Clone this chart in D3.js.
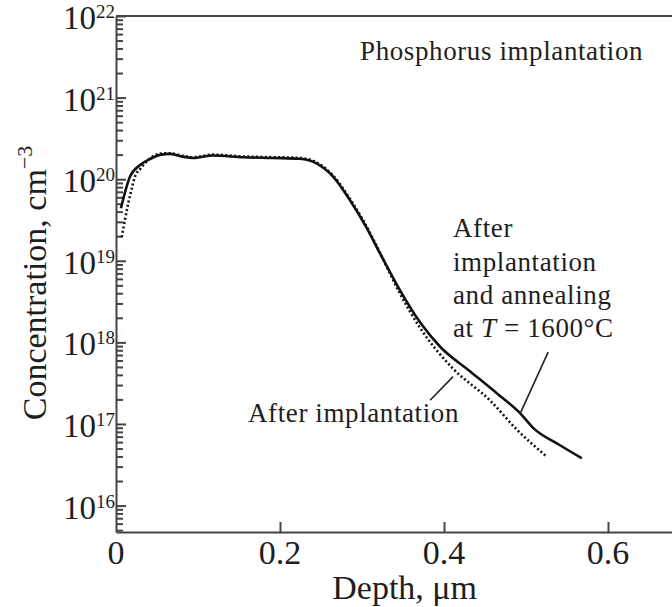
<!DOCTYPE html>
<html>

<head>
    <meta charset="utf-8">
</head>
<style>
    body {
        margin: 0;
        background: #fff;
    }

    text {
        font-family: "Liberation Serif", "Times New Roman", serif;
        fill: #1e1e1e;
    }

    .axis path,
    .axis line {
        stroke: #444;
        stroke-width: 2;
    }

    .line {
        fill: none;
        stroke: #111;
    }
</style>

<body>
    <svg width="672" height="607"></svg>
    <script src="https://d3js.org/d3.v7.min.js"></script>
    <script>
        // profile after implantation + annealing at 1600 C (solid)
        var depthAnnealed = [0.006, 0.017, 0.029, 0.042, 0.055, 0.065, 0.08, 0.094, 0.118, 0.155, 0.192, 0.224, 0.245,
            0.265, 0.285, 0.305, 0.322, 0.346, 0.371, 0.395, 0.432, 0.465, 0.493, 0.509, 0.54, 0.568];
        var concAnnealed = [4.4e19, 1.07e20, 1.48e20, 1.78e20, 2.0e20, 2.04e20, 1.9e20, 1.82e20, 1.95e20, 1.86e20, 1.82e20, 1.78e20, 1.55e20,
            1.07e20, 5.6e19, 2.6e19, 1.23e19, 4.4e18, 1.75e18, 8.9e17, 4.4e17, 2.35e17, 1.35e17, 8.9e16, 5.6e16, 3.8e16];

        // profile right after implantation (dotted)
        var depthImplanted = [0.007, 0.011, 0.015, 0.0195, 0.023, 0.03, 0.042, 0.055, 0.065, 0.08, 0.094, 0.118, 0.155, 0.192,
            0.224, 0.245, 0.265, 0.285, 0.305, 0.322, 0.345, 0.370, 0.409, 0.456, 0.489, 0.525];
        var concImplanted = [1.95e19, 3.2e19, 5.1e19, 7.9e19, 1.07e20, 1.35e20, 1.82e20, 2.06e20, 2.08e20, 1.95e20, 1.86e20, 2.0e20, 1.9e20, 1.86e20,
            1.82e20, 1.6e20, 1.1e20, 5.8e19, 2.7e19, 1.25e19, 4.2e18, 1.55e18, 5.0e17, 1.95e17, 8.5e16, 4.0e16];

        var xTickValues = [0, 0.2, 0.4, 0.6];
        var xTickLabels = ["0", "0.2", "0.4", "0.6"];
        var yDecades = [16, 17, 18, 19, 20, 21, 22];

        var svg = d3.select("svg");

        var x = d3.scaleLinear()
            .domain([0, 0.7])
            .range([116, 116 + 820 * 0.7]);

        var y = d3.scaleLog()
            .domain([Math.pow(10, 15.676), 1e22])
            .range([532, 16]);

        var majorTicks = yDecades.map(function (d) { return Math.pow(10, d); });
        var minorTicks = y.ticks().filter(function (t) {
            return Math.abs(Math.log10(t) - Math.round(Math.log10(t))) > 1e-6;
        });

        // y axis: minor ticks then major ticks, pointing inward
        svg.append("g")
            .attr("class", "axis")
            .attr("transform", "translate(" + x(0) + ",0)")
            .call(d3.axisRight(y).tickValues(minorTicks).tickSize(7).tickSizeOuter(0).tickFormat(""));

        svg.append("g")
            .attr("class", "axis")
            .attr("transform", "translate(" + x(0) + ",0)")
            .call(d3.axisRight(y).tickValues(majorTicks).tickSize(10).tickSizeOuter(0).tickFormat(""))
            .select(".domain").remove();

        // x axis at bottom, ticks inward
        svg.append("g")
            .attr("class", "axis")
            .attr("transform", "translate(0," + y.range()[0] + ")")
            .call(d3.axisTop(x).tickValues(xTickValues.slice(1)).tickSize(10).tickSizeOuter(0).tickFormat(""));

        // top frame
        svg.append("line")
            .attr("x1", x(0)).attr("x2", x(0.7))
            .attr("y1", y(1e22)).attr("y2", y(1e22))
            .attr("stroke", "#444").attr("stroke-width", 2);

        // y tick labels 10^n
        var ylab = svg.append("g").selectAll("text")
            .data(yDecades)
            .enter().append("text")
            .attr("x", x(0) - 1)
            .attr("y", function (d) { return y(Math.pow(10, d)) + 13; })
            .attr("text-anchor", "end");
        ylab.append("tspan").attr("font-size", 33).text("10");
        ylab.append("tspan").attr("font-size", 19).attr("dy", -11).text(function (d) { return d; });

        // x tick labels
        svg.append("g").selectAll("text")
            .data(xTickValues)
            .enter().append("text")
            .attr("x", function (d) { return x(d); })
            .attr("y", 564)
            .attr("text-anchor", "middle")
            .attr("font-size", 34)
            .text(function (d, i) { return xTickLabels[i]; });

        // axis titles
        svg.append("text")
            .attr("x", x(0.352))
            .attr("y", 599)
            .attr("text-anchor", "middle")
            .attr("font-size", 34)
            .text("Depth, μm");

        var yt = svg.append("text")
            .attr("transform", "translate(46,283) rotate(-90)")
            .attr("text-anchor", "middle")
            .attr("font-size", 34);
        yt.append("tspan").text("Concentration, cm");
        yt.append("tspan").attr("font-size", 22).attr("dy", -14).text("−3");

        var line = d3.line()
            .x(function (d) { return x(d[0]); })
            .y(function (d) { return y(d[1]); })
            .curve(d3.curveMonotoneX);

        svg.append("path")
            .datum(d3.zip(depthImplanted, concImplanted))
            .attr("class", "line")
            .attr("stroke-width", 2.6)
            .attr("stroke-dasharray", "2,2.4")
            .attr("d", line);

        svg.append("path")
            .datum(d3.zip(depthAnnealed, concAnnealed))
            .attr("class", "line")
            .attr("stroke-width", 2.6)
            .attr("d", line);

        // annotations
        var ann = svg.append("g").attr("font-size", 27).attr("letter-spacing", 0.6);

        ann.append("text")
            .attr("x", x(0.2976)).attr("y", 60)
            .text("Phosphorus implantation");

        ann.append("text")
            .attr("x", x(0.161)).attr("y", 422)
            .text("After implantation");

        var block = ann.append("text").attr("x", x(0.411)).attr("y", 237);
        block.append("tspan").attr("x", x(0.411)).attr("dy", 0).text("After");
        block.append("tspan").attr("x", x(0.411)).attr("dy", 34).text("implantation");
        block.append("tspan").attr("x", x(0.411)).attr("dy", 33).text("and annealing");
        var last = block.append("tspan").attr("x", x(0.411)).attr("dy", 33);
        last.append("tspan").text("at ");
        last.append("tspan").attr("font-style", "italic").text("T");
        last.append("tspan").text(" = 1600°C");

        // leader lines
        var leaders = [
            [[0.383, Math.pow(10, 17.29)], [0.411, Math.pow(10, 17.58)]],
            [[0.493, Math.pow(10, 17.13)], [0.527, Math.pow(10, 17.88)]]
        ];
        svg.selectAll(".leader")
            .data(leaders)
            .enter().append("line")
            .attr("class", "leader")
            .attr("x1", function (d) { return x(d[0][0]); })
            .attr("y1", function (d) { return y(d[0][1]); })
            .attr("x2", function (d) { return x(d[1][0]); })
            .attr("y2", function (d) { return y(d[1][1]); })
            .attr("stroke", "#222")
            .attr("stroke-width", 1.6);
    </script>

</body>

</html>
